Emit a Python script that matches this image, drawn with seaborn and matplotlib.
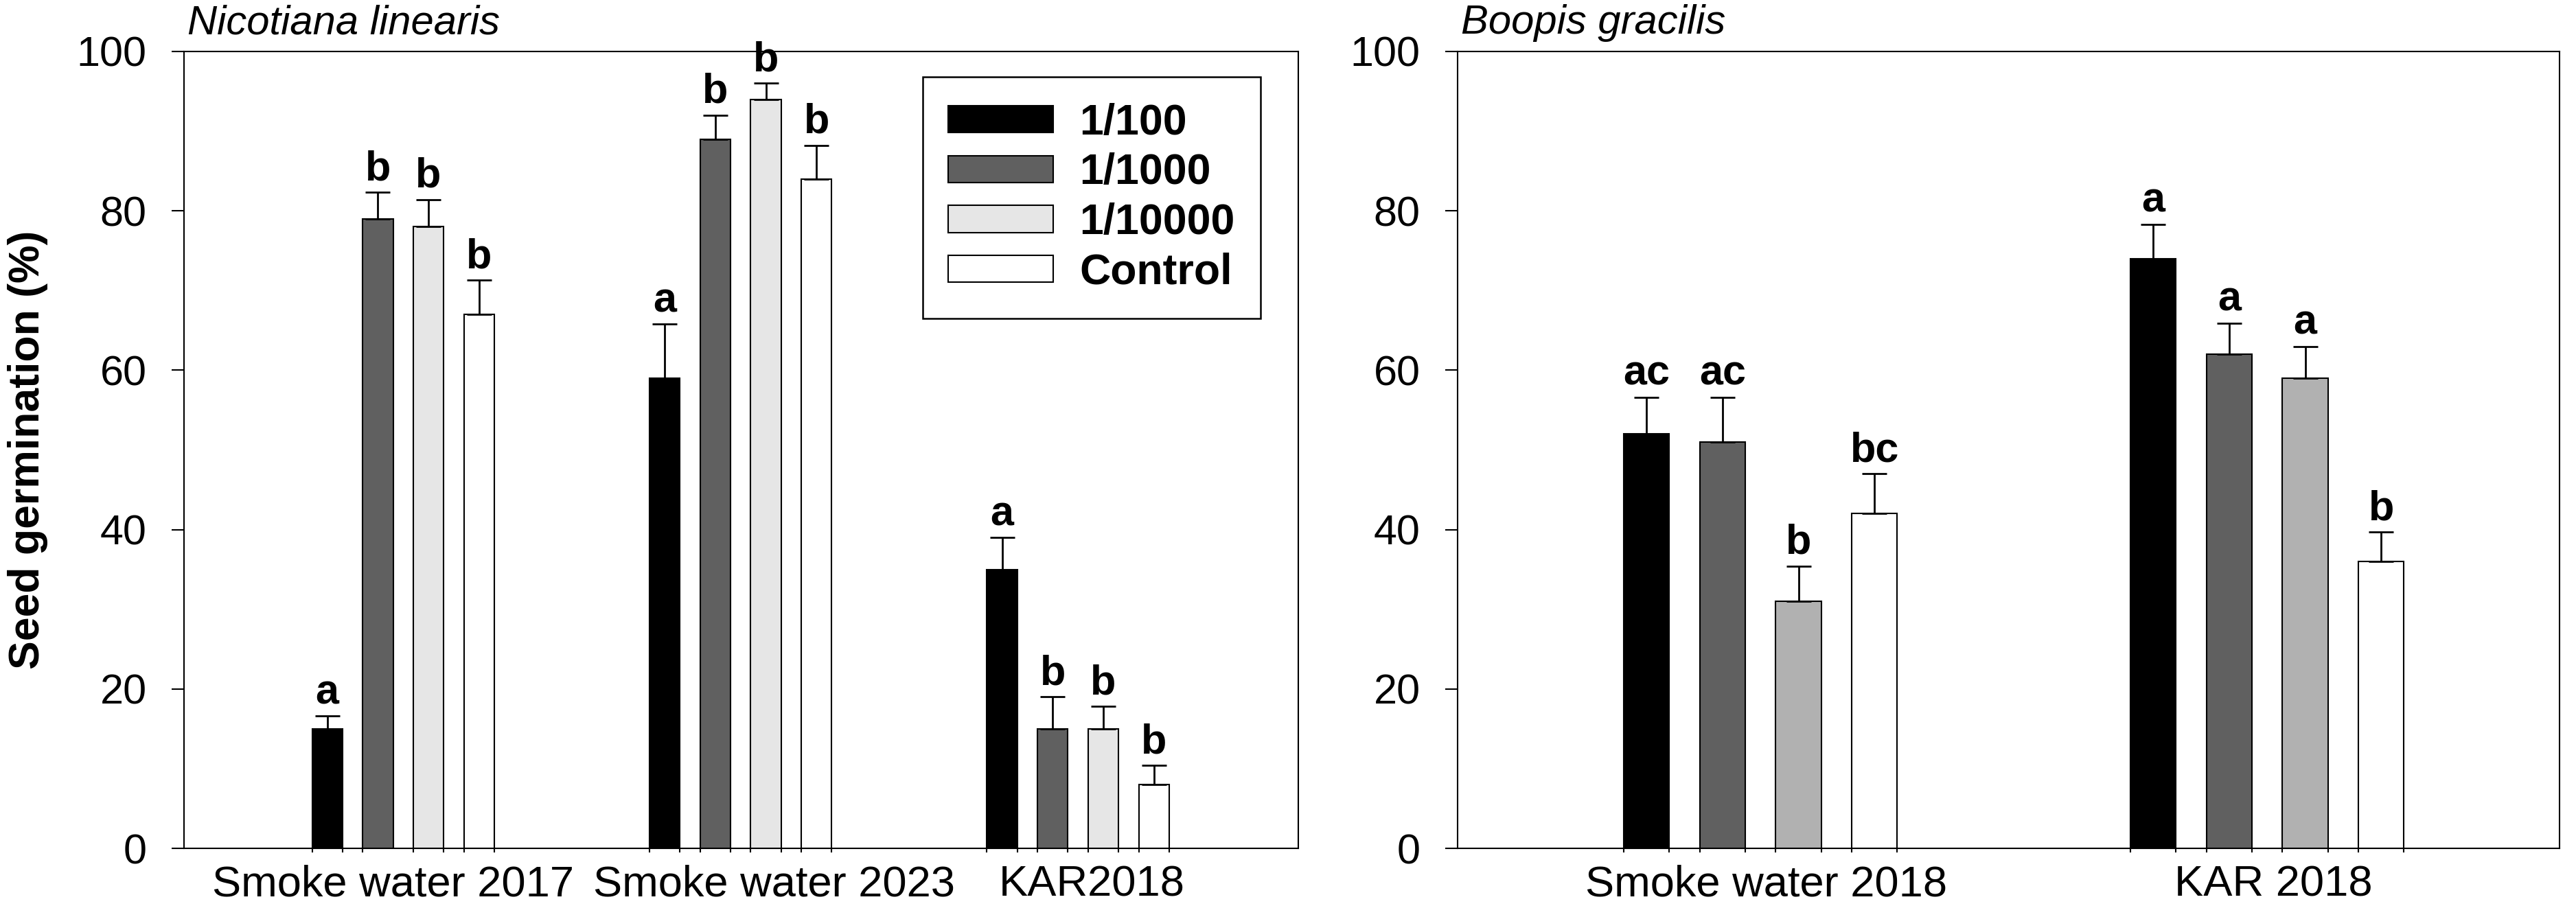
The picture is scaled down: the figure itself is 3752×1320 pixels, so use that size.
import matplotlib
matplotlib.use("Agg")
import matplotlib.pyplot as plt
import numpy as np
import pandas as pd
import seaborn as sns

# treatments (dilutions) shared by both panels
treatments = ["1/100", "1/1000", "1/10000", "Control"]

# Nicotiana linearis: rows = treatment, columns = group
nic_groups = ["Smoke water 2017", "Smoke water 2023", "KAR2018"]
nic_means = [[15, 59, 35], [79, 89, 15], [78, 94, 15], [67, 84, 8]]
nic_errors = [[1.6, 6.8, 4.0], [3.3, 3.0, 4.0], [3.4, 2.0, 2.8], [4.3, 4.2, 2.4]]
nic_letters = [["a", "a", "a"], ["b", "b", "b"], ["b", "b", "b"], ["b", "b", "b"]]

# Boopis gracilis
boo_groups = ["Smoke water 2018", "KAR 2018"]
boo_means = [[52, 74], [51, 62], [31, 59], [42, 36]]
boo_errors = [[4.6, 4.3], [5.6, 3.9], [4.4, 4.0], [5.0, 3.7]]
boo_letters = [["ac", "a"], ["ac", "a"], ["b", "a"], ["bc", "b"]]

nic_palette = ["#000000", "#606060", "#e6e6e6", "#ffffff"]
boo_palette = ["#000000", "#606060", "#b1b1b1", "#ffffff"]

sns.set_style("ticks")
plt.rcParams["font.family"] = ["Liberation Sans", "DejaVu Sans"]
plt.rcParams.update({
    "text.color": "black",
    "axes.labelcolor": "black",
    "xtick.color": "black",
    "ytick.color": "black",
    "axes.edgecolor": "black",
})


def panel_frame(groups, means):
    rows = []
    for treatment, vals in zip(treatments, means):
        for group, val in zip(groups, vals):
            rows.append({"group": group, "treatment": treatment, "value": val})
    return pd.DataFrame(rows)


def draw_panel(ax, groups, means, errors, letters, palette, title,
               label_shift, xlim, show_legend=False):
    df = panel_frame(groups, means)
    sns.barplot(
        data=df, x="group", y="value", hue="treatment",
        order=groups, hue_order=treatments, palette=palette,
        width=0.6, gap=0.4, saturation=1, edgecolor="black",
        linewidth=1.5, errorbar=None, legend=show_legend, ax=ax,
    )

    bar_containers = list(ax.containers)
    edges = []
    for i, bars in enumerate(bar_containers):
        xs = [b.get_x() + b.get_width() / 2 for b in bars]
        tops = np.array(means[i], dtype=float)
        errs = np.array(errors[i], dtype=float)
        ax.errorbar(xs, tops, yerr=[np.zeros_like(errs), errs], fmt="none",
                    ecolor="black", elinewidth=2, capsize=13, capthick=2,
                    zorder=3)
        for x, top, err, letter in zip(xs, tops, errs, letters[i]):
            ax.annotate(letter, (x, top + err), xytext=(0, 13),
                        textcoords="offset points", ha="center",
                        va="baseline", fontsize=44, fontweight="bold",
                        color="black")
        for b in bars:
            edges += [b.get_x(), b.get_x() + b.get_width()]

    centers = np.arange(len(groups)) + np.array(label_shift)
    ax.set_xticks(edges, minor=True)
    ax.set_xticks(centers, labels=groups)
    ax.set_xlim(*xlim)
    ax.set_ylim(0, 100)
    ax.set_yticks([0, 20, 40, 60, 80, 100])
    ax.set_xlabel("")
    ax.set_ylabel("")

    ax.tick_params(axis="x", which="major", length=0, pad=17, labelsize=45.5)
    ax.tick_params(axis="x", which="minor", length=4, width=1.5,
                   direction="out", color="black")
    ax.tick_params(axis="y", length=13, width=1.5, pad=26, labelsize=44,
                   direction="out", color="black")
    for spine in ax.spines.values():
        spine.set_visible(True)
        spine.set_linewidth(1.5)
        spine.set_color("black")

    ax.text(0.003, 1.022, title, transform=ax.transAxes, fontsize=43,
            fontstyle="italic", ha="left", va="baseline", color="black")

    if show_legend:
        handles, labels = ax.get_legend_handles_labels()
        leg = ax.legend(
            handles, labels, loc="upper right",
            bbox_to_anchor=(0.966, 0.968), borderaxespad=0,
            frameon=True, fancybox=False, framealpha=1, edgecolor="black",
            prop={"size": 45, "weight": "bold"},
            handlelength=2.45, handleheight=0.59, handletextpad=0.6,
            labelspacing=0.22, borderpad=0.6,
        )
        leg.get_frame().set_linewidth(1.8)


fig = plt.figure(figsize=(37.52, 13.2), dpi=100)
ax_left = fig.add_axes([0.0714, 0.0636, 0.4326, 0.8796])
ax_right = fig.add_axes([0.5658, 0.0636, 0.4278, 0.8796])

draw_panel(ax_left, nic_groups, nic_means, nic_errors, nic_letters,
           nic_palette, "Nicotiana linearis", [-0.03, 0.10, 0.04],
           (-0.65, 2.653), show_legend=True)
draw_panel(ax_right, boo_groups, boo_means, boo_errors, boo_letters,
           boo_palette, "Boopis gracilis", [0.012, 0.012], (-0.598, 1.577))

ax_left.set_ylabel("Seed germination (%)", fontsize=45, fontweight="bold")
ax_left.yaxis.set_label_coords(-0.122, 0.5)

fig.savefig("out.png", dpi=100)
plt.close(fig)
